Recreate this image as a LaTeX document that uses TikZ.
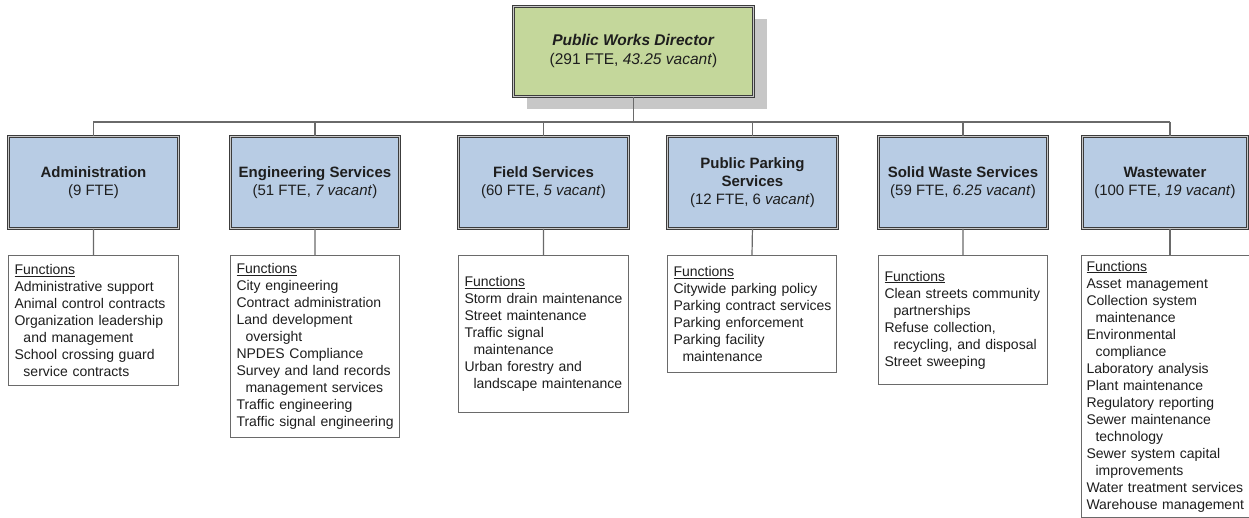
\documentclass[tikz,border=0pt]{standalone}
\usepackage{fontspec}
\setmainfont{Liberation Sans}
\usetikzlibrary{shadows}
\definecolor{dirfill}{HTML}{C4D79B}
\definecolor{depfill}{HTML}{B8CCE4}
\definecolor{edgec}{HTML}{3C3C3C}
\definecolor{gapc}{HTML}{C8C8C8}
\definecolor{connc}{HTML}{6A6A6A}
\definecolor{txtc}{HTML}{1E1E1E}
\newcommand\Ln[1]{\mbox{#1}}
\newcommand\Lc[1]{\mbox{\hspace*{9pt}#1}}
\tikzset{
  dirbox/.style={draw=edgec, line width=0.9pt, double=gapc, double distance=1.6pt,
    fill=dirfill, minimum width=240pt, minimum height=90pt, inner sep=0pt,
    align=center, anchor=north west, text=txtc,
    font=\fontsize{15.5}{19}\selectfont,
    drop shadow={shadow xshift=14pt, shadow yshift=-13pt, fill=black!22, opacity=1}},
  deptbox/.style={draw=edgec, line width=0.9pt, double=gapc, double distance=1.6pt,
    fill=depfill, minimum height=92pt, inner sep=0pt, align=center,
    anchor=north west, text=txtc, font=\fontsize{15}{18}\selectfont},
  funcbox/.style={draw=connc, line width=1pt, fill=white, inner xsep=6pt, inner ysep=0pt,
    align=left, anchor=north west, text=txtc, font=\fontsize{14}{17}\selectfont},
  conn/.style={draw=connc, line width=1.2pt}
}
\begin{document}
\begin{tikzpicture}[x=1pt,y=-1pt]
\useasboundingbox (0,0) rectangle (1249,518);
\clip (0,0) rectangle (1249,518);
\fill[white] (0,0) rectangle (1249,518);
\coordinate (bar) at (0,122);
\coordinate (wwx) at (1170,0);

% director
\node[dirbox] (dir) at (513,6) {\textbf{\textit{Public Works Director}}\\(291 FTE, \textit{43.25 vacant})};

% departments
\node[deptbox, minimum width=170pt] (adm) at (8,136) {\textbf{Administration}\\(9 FTE)};
\node[deptbox, minimum width=169pt] (eng) at (230,136) {\textbf{Engineering Services}\\(51 FTE, \textit{7 vacant})};
\node[deptbox, minimum width=170pt] (fld) at (458,136) {\textbf{Field Services}\\(60 FTE, \textit{5 vacant})};
\node[deptbox, minimum width=170pt] (prk) at (667,136) {\textbf{Public Parking}\\\textbf{Services}\\(12 FTE, 6 \textit{vacant})};
\node[deptbox, minimum width=169pt] (sld) at (878,136) {\textbf{Solid Waste Services}\\(59 FTE, \textit{6.25 vacant})};
\node[deptbox, minimum width=165pt] (ww) at (1082,136) {\textbf{Wastewater}\\(100 FTE, \textit{19 vacant})};

% function boxes
\node[funcbox, text width=158pt, minimum height=130pt] (admf) at (8,255)
 {\underline{Functions}\\\Ln{Administrative support}\\\Ln{Animal control contracts}\\\Ln{Organization leadership}\\\Lc{and management}\\\Ln{School crossing guard}\\\Lc{service contracts}};
\node[funcbox, text width=157pt, minimum height=182pt] (engf) at (230,255)
 {\underline{Functions}\\\Ln{City engineering}\\\Ln{Contract administration}\\\Ln{Land development}\\\Lc{oversight}\\\Ln{NPDES Compliance}\\\Ln{Survey and land records}\\\Lc{management services}\\\Ln{Traffic engineering}\\\Ln{Traffic signal engineering}};
\node[funcbox, text width=158pt, minimum height=157pt] (fldf) at (458,255)
 {\underline{Functions}\\\Ln{Storm drain maintenance}\\\Ln{Street maintenance}\\\Ln{Traffic signal}\\\Lc{maintenance}\\\Ln{Urban forestry and}\\\Lc{landscape maintenance}};
\node[funcbox, text width=157pt, minimum height=117pt] (prkf) at (667,255)
 {\underline{Functions}\\\Ln{Citywide parking policy}\\\Ln{Parking contract services}\\\Ln{Parking enforcement}\\\Ln{Parking facility}\\\Lc{maintenance}};
\node[funcbox, text width=157pt, minimum height=129pt] (sldf) at (878,255)
 {\underline{Functions}\\\Ln{Clean streets community}\\\Lc{partnerships}\\\Ln{Refuse collection,}\\\Lc{recycling, and disposal}\\\Ln{Street sweeping}};
\node[funcbox, inner xsep=5pt, text width=170pt, minimum height=262pt] (wwf) at (1081,255)
 {\underline{Functions}\\\Ln{Asset management}\\\Ln{Collection system}\\\Lc{maintenance}\\\Ln{Environmental}\\\Lc{compliance}\\\Ln{Laboratory analysis}\\\Ln{Plant maintenance}\\\Ln{Regulatory reporting}\\\Ln{Sewer maintenance}\\\Lc{technology}\\\Ln{Sewer system capital}\\\Lc{improvements}\\\Ln{Water treatment services}\\\Ln{Warehouse management}};

% connectors
\draw[conn] (dir.south) -- (dir.south |- bar);
\draw[conn] (adm.north |- bar) -- (wwx |- bar);
\foreach \d in {adm,eng,fld,prk,sld}{
  \draw[conn] (\d.north |- bar) -- (\d.north);
  \draw[conn] (\d.south) -- (\d f.north);
}
\draw[conn] (wwx |- bar) -- (wwx |- ww.north);
\draw[conn] (wwx |- ww.south) -- (wwx |- wwf.north);
\end{tikzpicture}
\end{document}
